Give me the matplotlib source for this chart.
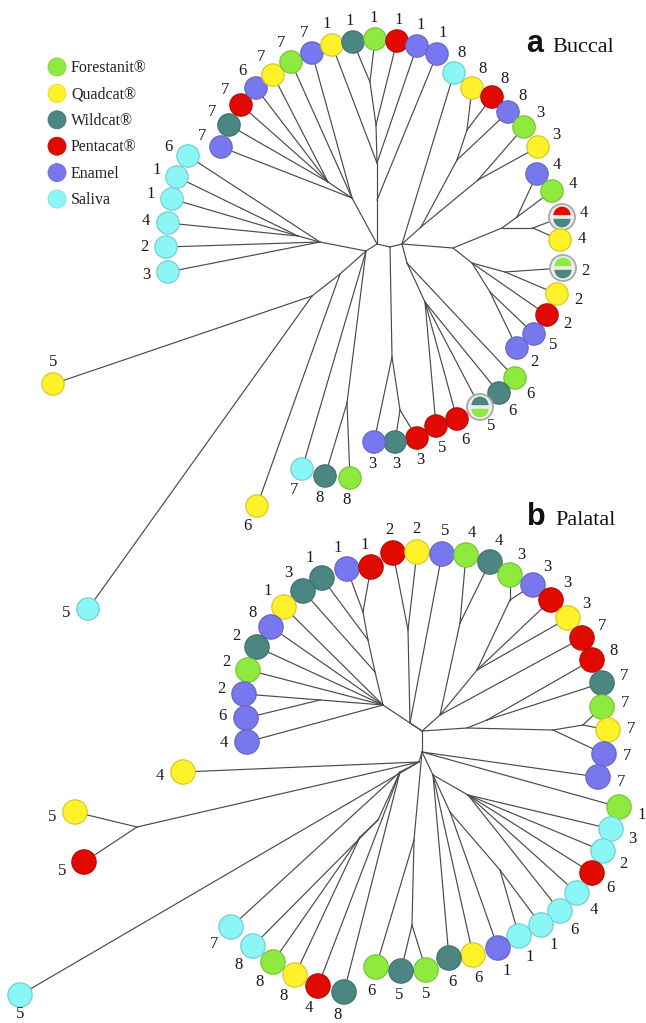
import matplotlib
matplotlib.use("Agg")
import matplotlib.pyplot as plt
from matplotlib.patches import Circle, Wedge
from matplotlib.colors import to_rgb
import numpy as np

# ---------------- data ----------------
LEGEND_KEYS = ["Forestanit", "Quadcat", "Wildcat", "Pentacat", "Enamel", "Saliva"]
LEGEND_NAMES = ["Forestanit®", "Quadcat®", "Wildcat®", "Pentacat®", "Enamel", "Saliva"]
COLORS = {"Forestanit": "#8EEA3F", "Quadcat": "#FFF22A", "Wildcat": "#4B8682",
          "Pentacat": "#E00A00", "Enamel": "#7878EE", "Saliva": "#8AF6F6"}

# tree layout (unrooted tree, node -> (x, y, parent))
BUCCAL_NODES = {
    "a0": (377, 244, None), "a3": (390, 247, "a0"), "a1": (402, 244, "a3"),
    "a2": (366, 251, "a0"),
    "aL2": (320, 242, "a2"), "aL1": (298, 236, "aL2"),
    "aTL2": (352, 198, "a0"), "aTL1": (328, 182, "aTL2"),
    "aT4": (377, 200, "a0"), "aT3": (377, 163, "aT4"), "aT2": (376, 125, "aT3"),
    "aT1": (370, 82, "aT2"),
    "aD4": (421, 227, "a1"), "aD2": (457, 160, "aD4"), "aD1": (467, 130, "aD2"),
    "aD3": (478, 180, "aD4"),
    "aE4": (453, 248, "a1"), "aE3": (502, 228, "aE4"), "aE2": (517, 217, "aE3"),
    "aE1": (533, 228, "aE3"), "aE5": (472, 263, "aE4"), "aE6": (505, 272, "aE5"),
    "aE7": (490, 292, "aE5"),
    "aF1": (407, 263, "a1"), "aF2": (425, 302, "aF1"),
    "aG2": (392, 357, "a3"), "aG1": (400, 410, "aG2"),
    "aH1": (347, 403, "a2"),
    "aP2": (340, 274, "a2"), "aP1": (312, 296, "aP2"),
}
BUCCAL_LEAVES = [
    ("Saliva", "6", 188, 156, "aL2"), ("Saliva", "1", 177, 177, "aL1"),
    ("Saliva", "1", 172, 199, "aL1"), ("Saliva", "4", 168, 223, "aL1"),
    ("Saliva", "2", 166, 247, "aL2"), ("Saliva", "3", 168, 272, "aL2"),
    ("Enamel", "7", 221, 147, "aTL2"), ("Wildcat", "7", 229, 125, "aTL1"),
    ("Pentacat", "7", 241, 105, "aTL1"), ("Enamel", "6", 256, 88, "aTL1"),
    ("Quadcat", "7", 273, 75, "aTL1"), ("Forestanit", "7", 291, 62, "aTL2"),
    ("Enamel", "7", 312, 53, "aTL2"), ("Quadcat", "1", 332, 45, "aT3"),
    ("Wildcat", "1", 353, 42, "aT1"), ("Forestanit", "1", 375, 39, "aT1"),
    ("Pentacat", "1", 397, 41, "aT2"), ("Enamel", "1", 417, 46, "aT3"),
    ("Enamel", "1", 437, 54, "aT4"), ("Saliva", "8", 454, 73, "a1"),
    ("Quadcat", "8", 472, 88, "aD1"), ("Pentacat", "8", 492, 97, "aD1"),
    ("Enamel", "8", 508, 112, "aD2"), ("Forestanit", "3", 524, 127, "aD3"),
    ("Quadcat", "3", 538, 147, "aD3"), ("Enamel", "4", 537, 174, "aE2"),
    ("Forestanit", "4", 552, 191, "aE2"), ("Pentacat|Wildcat", "4", 562, 217, "aE1"),
    ("Quadcat", "4", 560, 240, "aE1"), ("Forestanit|Wildcat", "2", 563, 268, "aE6"),
    ("Quadcat", "2", 557, 294, "aE6"), ("Pentacat", "2", 547, 315, "aE5"),
    ("Enamel", "5", 534, 334, "aE7"), ("Enamel", "2", 517, 348, "aE7"),
    ("Forestanit", "6", 515, 378, "aF1"), ("Wildcat", "6", 499, 393, "aF2"),
    ("Wildcat|Forestanit", "5", 480, 407, "aF2"), ("Pentacat", "6", 457, 419, "aF2"),
    ("Pentacat", "5", 436, 426, "aF2"), ("Pentacat", "3", 417, 438, "aG1"),
    ("Wildcat", "3", 395, 442, "aG1"), ("Enamel", "3", 374, 442, "aG2"),
    ("Saliva", "7", 302, 469, "a2"), ("Wildcat", "8", 325, 476, "aH1"),
    ("Forestanit", "8", 350, 478, "aH1"), ("Quadcat", "6", 257, 506, "aP2"),
    ("Quadcat", "5", 53, 384, "aP1"), ("Saliva", "5", 88, 609, "aP1"),
]

PALATAL_NODES = {
    "b0": (422, 731, None), "b1": (422, 752, "b0"), "b2": (419, 762, "b1"),
    "bK4": (383, 705, "b0"), "bK3": (375, 672, "bK4"), "bK2": (368, 640, "bK3"),
    "bK1": (363, 612, "bK2"), "bK5": (320, 700, "bK4"),
    "bM0": (410, 723, "b0"), "bM1": (408, 630, "bM0"),
    "bN3": (440, 715, "b0"), "bM2": (460, 623, "bN3"), "bN2": (477, 670, "bN3"),
    "bN1": (510, 600, "bN2"),
    "bQ0": (467, 728, "b0"), "bQ1": (487, 720, "bQ0"), "bQ3": (553, 730, "bQ0"),
    "bQ2": (583, 725, "bQ3"),
    "bR1": (433, 775, "b1"), "bR2": (450, 812, "bR1"), "bR4": (500, 870, "bR2"),
    "bR3": (468, 795, "bR1"),
    "bS2": (414, 840, "b1"), "bS1": (412, 925, "bS2"),
    "bU1": (137, 827, "b2"), "bT1": (400, 772, "b2"), "bT2": (378, 820, "bT1"),
    "bT3": (360, 837, "bT2"),
}
PALATAL_LEAVES = [
    ("Wildcat", "1", 322, 578, "bK2"), ("Wildcat", "3", 303, 591, "bK3"),
    ("Quadcat", "1", 284, 607, "bK4"), ("Enamel", "8", 271, 627, "bK4"),
    ("Wildcat", "2", 257, 647, "bK4"), ("Forestanit", "2", 248, 670, "bK4"),
    ("Enamel", "2", 244, 694, "bK5"), ("Enamel", "6", 246, 718, "bK5"),
    ("Enamel", "4", 247, 742, "bK4"), ("Enamel", "1", 347, 569, "bK1"),
    ("Pentacat", "1", 371, 567, "bK1"), ("Pentacat", "2", 393, 553, "bM1"),
    ("Quadcat", "2", 417, 552, "bM1"), ("Enamel", "5", 442, 554, "bM0"),
    ("Forestanit", "4", 466, 555, "bM2"), ("Wildcat", "4", 490, 562, "bM2"),
    ("Forestanit", "3", 510, 575, "bN1"), ("Enamel", "3", 533, 585, "bN1"),
    ("Pentacat", "3", 551, 600, "bN2"), ("Quadcat", "3", 568, 618, "bN2"),
    ("Pentacat", "7", 582, 638, "bN3"), ("Pentacat", "8", 592, 660, "bQ1"),
    ("Wildcat", "7", 602, 683, "bQ1"), ("Forestanit", "7", 602, 707, "bQ2"),
    ("Quadcat", "7", 608, 730, "bQ2"), ("Enamel", "7", 604, 754, "bQ3"),
    ("Enamel", "7", 598, 777, "b1"), ("Forestanit", "1", 619, 807, "b1"),
    ("Saliva", "3", 611, 829, "bR3"), ("Saliva", "2", 603, 851, "bR3"),
    ("Pentacat", "6", 592, 873, "bR3"), ("Saliva", "4", 577, 893, "bR3"),
    ("Saliva", "6", 560, 911, "bR3"), ("Saliva", "1", 541, 925, "bR4"),
    ("Saliva", "1", 519, 936, "bR4"), ("Enamel", "1", 498, 948, "bR2"),
    ("Quadcat", "6", 473, 955, "bR1"), ("Wildcat", "6", 449, 958, "bR1"),
    ("Forestanit", "5", 426, 970, "bS1"), ("Wildcat", "5", 401, 971, "bS1"),
    ("Forestanit", "6", 376, 967, "bS2"), ("Wildcat", "8", 344, 992, "bT1"),
    ("Pentacat", "4", 318, 986, "bT1"), ("Quadcat", "8", 295, 975, "bT3"),
    ("Forestanit", "8", 273, 962, "bT3"), ("Saliva", "8", 253, 946, "bT2"),
    ("Saliva", "7", 231, 927, "bT1"), ("Quadcat", "4", 183, 772, "b2"),
    ("Quadcat", "5", 75, 812, "bU1"), ("Pentacat", "5", 84, 862, "bU1"),
    ("Saliva", "5", 20, 995, "b2"),
]

# ---------------- drawing ----------------
W, H = 646, 1023
fig = plt.figure(figsize=(W / 100, H / 100), dpi=100)
ax = fig.add_axes([0, 0, 1, 1])
ax.set_xlim(0, W)
ax.set_ylim(H, 0)
ax.axis("off")

SERIF = "Liberation Serif"
LINE_C = "#4a4a4a"


def darker(c, f=0.8):
    return tuple(v * f for v in to_rgb(c))


def draw_tree(nodes, leaves, center, r, label_dist, overrides):
    pos = {k: (v[0], v[1]) for k, v in nodes.items()}
    for k, (x, y, p) in nodes.items():
        if p is not None:
            px, py = pos[p]
            ax.plot([px, x], [py, y], color=LINE_C, lw=0.85, zorder=1,
                    solid_capstyle="round")
    for cat, lab, x, y, p in leaves:
        px, py = pos[p]
        ax.plot([px, x], [py, y], color=LINE_C, lw=0.85, zorder=1)
        if "|" in cat:
            top, bot = cat.split("|")
            ax.add_patch(Circle((x, y), r + 1.8, facecolor="#ededed",
                                edgecolor="#a8a8a8", lw=1.3, zorder=3))
            ax.add_patch(Wedge((x, y - 1.8), r - 2.6, 180, 360,
                               facecolor=COLORS[top], edgecolor="none", zorder=4))
            ax.add_patch(Wedge((x, y + 1.8), r - 2.6, 0, 180,
                               facecolor=COLORS[bot], edgecolor="none", zorder=4))
        else:
            ax.add_patch(Circle((x, y), r, facecolor=COLORS[cat],
                                edgecolor=darker(COLORS[cat], 0.82), lw=0.8,
                                zorder=3))
        key = (cat, lab)
        dist = label_dist
        if key in overrides:
            d = np.array(overrides[key][0], dtype=float)
            dist = overrides[key][1]
        else:
            d = np.array([x - center[0], y - center[1]], dtype=float)
        d = d / np.linalg.norm(d)
        ax.text(x + d[0] * dist, y + d[1] * dist + 0.5, lab,
                family=SERIF, fontsize=12, color="#1a1a1a",
                ha="center", va="center", zorder=5)


draw_tree(BUCCAL_NODES, BUCCAL_LEAVES, (385, 250), 11.2, 22,
          {("Quadcat", "5"): ((0, -1), 22), ("Saliva", "5"): ((-1, 0.15), 22)})
draw_tree(PALATAL_NODES, PALATAL_LEAVES, (420, 740), 12.2, 23.5,
          {("Saliva", "5"): ((0, 1), 19)})

# legend
for i, (k, name) in enumerate(zip(LEGEND_KEYS, LEGEND_NAMES)):
    y = 67 + i * 26.4
    ax.add_patch(Circle((57, y), 9, facecolor=COLORS[k],
                        edgecolor=darker(COLORS[k], 0.9), lw=0.6, zorder=3))
    ax.text(71, y + 1, name, family=SERIF, fontsize=11.5, color="#222222",
            ha="left", va="center")

# panel titles
ax.text(526, 52, "a", family="Liberation Sans", fontweight="bold", fontsize=22,
        ha="left", va="baseline", color="#111111")
ax.text(552, 52, "Buccal", family=SERIF, fontsize=16, ha="left",
        va="baseline", color="#111111")
ax.text(527, 525, "b", family="Liberation Sans", fontweight="bold", fontsize=22,
        ha="left", va="baseline", color="#111111")
ax.text(555, 525, "Palatal", family=SERIF, fontsize=16, ha="left",
        va="baseline", color="#111111")

fig.savefig("out.png", dpi=100, facecolor="white")
